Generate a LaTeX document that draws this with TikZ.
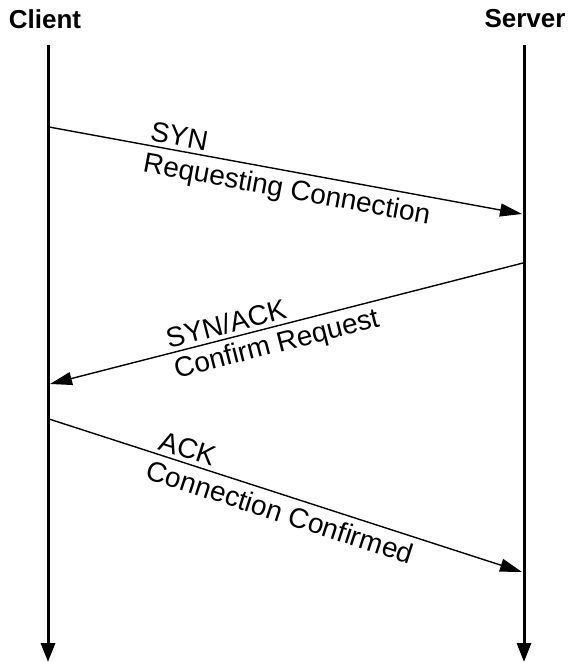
\documentclass[tikz,border=0pt]{standalone}
\usepackage{fontspec}
\setmainfont{Liberation Sans}
\usetikzlibrary{arrows.meta}
\begin{document}
\begin{tikzpicture}[x=1pt,y=-1pt,
  lifeline/.style={line width=3pt, -{Triangle[length=19pt,width=14pt]}},
  msg/.style={line width=1.4pt, -{Triangle[length=22pt,width=13pt]}},
  head/.style={font=\fontsize{26}{30}\selectfont\bfseries, inner sep=0pt},
  lbl/.style={font=\fontsize{28}{30}\selectfont, sloped}]
\useasboundingbox (0,0) rectangle (570,663);
\node[head] (client) at (45,19) {Client};
\node[head] (server) at (525,19) {Server};
\coordinate (ctop) at (48,45);
\coordinate (cbot) at (48,662);
\coordinate (stop) at (524,45);
\coordinate (sbot) at (524,662);
\draw[lifeline] (ctop) -- (cbot);
\draw[lifeline] (stop) -- (sbot);
\coordinate (c1) at (49,127);
\coordinate (s1) at (522,214);
\coordinate (s2) at (523,263);
\coordinate (c2) at (50,384);
\coordinate (c3) at (49,419);
\coordinate (s3) at (522,572);
\draw[msg] (c1) -- (s1)
  node[lbl, pos=0.27, anchor=south, inner sep=4pt] (syn) {SYN}
  node[lbl, pos=0.51, anchor=north, inner sep=6pt] (synd) {Requesting Connection};
\draw[msg] (s2) -- (c2)
  node[lbl, pos=0.62, anchor=south, inner sep=4pt] (synack) {SYN/ACK}
  node[lbl, pos=0.53, anchor=north, inner sep=5pt] (synackd) {Confirm Request};
\draw[msg] (c3) -- (s3)
  node[lbl, pos=0.285, anchor=south, inner sep=4pt] (ack) {ACK}
  node[lbl, pos=0.5, anchor=north, inner sep=6pt] (ackd) {Connection Confirmed};
\end{tikzpicture}
\end{document}
